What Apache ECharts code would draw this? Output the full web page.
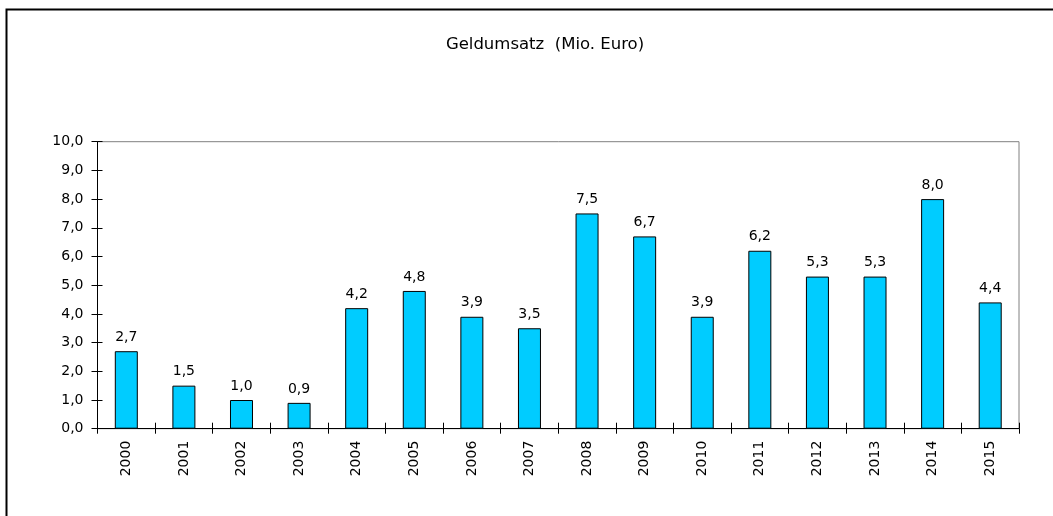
<!DOCTYPE html>
<html>
<head>
<meta charset="utf-8">
<script src="https://cdn.jsdelivr.net/npm/echarts@6/dist/echarts.min.js"></script>
<style>
  html, body { margin: 0; padding: 0; background: #fff; }
  #main { width: 1053px; height: 516px; }
</style>
</head>
<body>
<div id="main"></div>
<script>
const years = ['2000', '2001', '2002', '2003', '2004', '2005', '2006', '2007',
  '2008', '2009', '2010', '2011', '2012', '2013', '2014', '2015'];
const umsatz = [2.7, 1.5, 1.0, 0.9, 4.2, 4.8, 3.9, 3.5, 7.5, 6.7, 3.9, 6.2, 5.3, 5.3, 8.0, 4.4];
const titleText = 'Geldumsatz  (Mio. Euro)';

const fmt = v => Number(v).toFixed(1).replace('.', ',');
const font = 'DejaVu Sans, sans-serif';

const myChart = echarts.init(document.getElementById('main'));

const option = {
  animation: false,
  title: {
    text: titleText,
    left: 540,
    top: 31,
    textAlign: 'center',
    textStyle: { fontFamily: font, fontSize: 16.5, fontWeight: 'normal', color: '#000' }
  },
  graphic: [{
    type: 'rect',
    shape: { x: 6.5, y: 9.5, width: 1100, height: 600 },
    style: { fill: 'none', stroke: '#000', lineWidth: 2 },
    z: 100
  }],
  grid: {
    left: 97.5, right: 34, top: 141.7, bottom: 87.3,
    show: true, borderColor: '#808080', borderWidth: 1
  },
  xAxis: [
    {
      type: 'category',
      data: years,
      position: 'bottom',
      axisLine: { lineStyle: { color: '#000', width: 1 } },
      axisTick: { show: true, inside: false, length: 5, lineStyle: { color: '#000' } },
      axisLabel: { rotate: 90, margin: 12, color: '#000', fontFamily: font, fontSize: 14 }
    },
    {
      type: 'category',
      data: years,
      position: 'bottom',
      axisLine: { show: false },
      axisTick: { show: true, inside: true, length: 6, lineStyle: { color: '#000' } },
      axisLabel: { show: false }
    }
  ],
  yAxis: [
    {
      type: 'value',
      min: 0, max: 10, interval: 1,
      axisLine: { show: true, lineStyle: { color: '#000', width: 1 } },
      axisTick: { show: true, inside: false, length: 6, lineStyle: { color: '#000' } },
      axisLabel: { margin: 14, color: '#000', fontFamily: font, fontSize: 14, formatter: fmt },
      splitLine: { show: false }
    },
    {
      type: 'value',
      position: 'left',
      min: 0, max: 10, interval: 1,
      axisLine: { show: false },
      axisTick: { show: true, inside: true, length: 5, lineStyle: { color: '#000' } },
      axisLabel: { show: false },
      splitLine: { show: false }
    }
  ],
  series: [
    {
      type: 'bar',
      data: umsatz,
      barWidth: 23,
      itemStyle: { color: '#00CCFF', borderColor: '#000', borderWidth: 1 },
      label: {
        show: true, position: 'top', distance: 7,
        color: '#000', fontFamily: font, fontSize: 14,
        formatter: p => fmt(p.value)
      }
    }
  ]
};

myChart.setOption(option);
</script>
</body>
</html>
